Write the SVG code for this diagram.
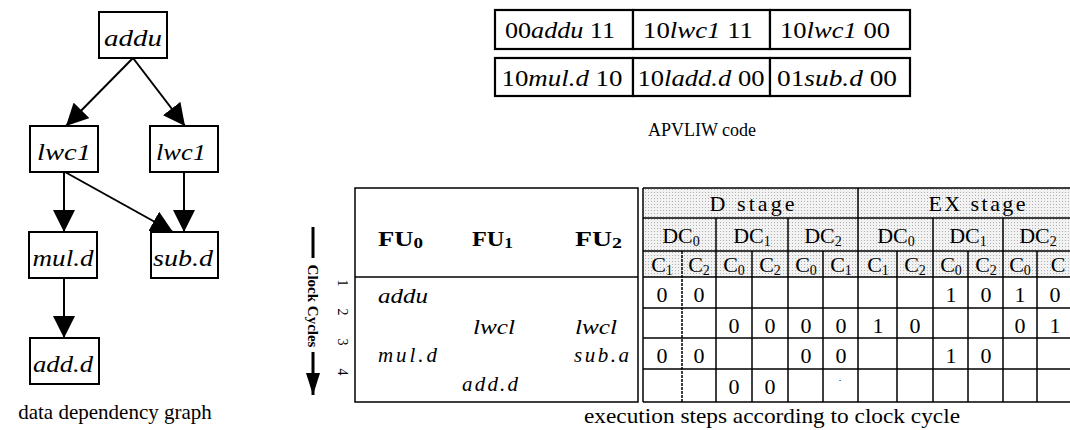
<svg xmlns="http://www.w3.org/2000/svg" width="1070" height="430" viewBox="0 0 1070 430" font-family="'Liberation Serif', 'DejaVu Serif', serif">
<style>
text{font-family:'Liberation Serif','DejaVu Serif',serif;fill:#000}
.nb{fill:#fff;stroke:#000;stroke-width:2}
.nt{font-size:23px;font-style:italic;text-anchor:middle}
.edge{stroke:#000;stroke-width:2;fill:none}
.cap{font-size:21px;text-anchor:middle}
.cb{fill:#fff;stroke:#000;stroke-width:2.2}
.ct{font-size:24px;text-anchor:middle}
.it{font-style:italic}
.tl{stroke:#000;stroke-width:1.5;fill:none}
.hd{font-size:22px;text-anchor:middle}
.fu{font-size:21px;font-weight:bold}
.op{font-size:21px;font-style:italic}
.v{font-size:22px;text-anchor:middle}
.num{font-size:14px}
</style>
<defs>
<marker id="ah" markerWidth="22" markerHeight="22" refX="22" refY="11" orient="auto" markerUnits="userSpaceOnUse">
<path d="M0,0 L22,11 L0,22 Z" fill="#000"/>
</marker>
<marker id="ah2" markerWidth="22" markerHeight="16" refX="22" refY="8" orient="auto" markerUnits="userSpaceOnUse">
<path d="M0,1 L22,8 L0,15 Z" fill="#000"/>
</marker>
<pattern id="dots" width="3" height="3" patternUnits="userSpaceOnUse">
<rect width="3" height="3" fill="#f2f2f2"/>
<rect width="1" height="1" fill="#b0b0b0"/>
</pattern>
</defs>

<!-- data dependency graph -->
<g id="connectors">
<line class="edge" x1="133" y1="58" x2="66" y2="126" marker-end="url(#ah)"/>
<line class="edge" x1="133" y1="58" x2="185" y2="126" marker-end="url(#ah)"/>
<line class="edge" x1="64" y1="172" x2="64" y2="232" marker-end="url(#ah)"/>
<line class="edge" x1="65" y1="172" x2="173" y2="232" marker-end="url(#ah)"/>
<line class="edge" x1="184" y1="172" x2="184" y2="232" marker-end="url(#ah)"/>
<line class="edge" x1="64" y1="278" x2="64" y2="338" marker-end="url(#ah)"/>
</g>
<g id="n-addu"><rect class="nb" x="99" y="12" width="68" height="46"/><text class="nt" x="133" y="46" textLength="58" lengthAdjust="spacingAndGlyphs">addu</text></g>
<g id="n-lwc1a"><rect class="nb" x="30" y="126" width="68" height="46"/><text class="nt" x="64" y="160" textLength="54" lengthAdjust="spacingAndGlyphs">lwc1</text></g>
<g id="n-lwc1b"><rect class="nb" x="150" y="126" width="68" height="46"/><text class="nt" x="181" y="160" textLength="50" lengthAdjust="spacingAndGlyphs">lwc1</text></g>
<g id="n-muld"><rect class="nb" x="29" y="232" width="68" height="46"/><text class="nt" x="63" y="266" textLength="61" lengthAdjust="spacingAndGlyphs">mul.d</text></g>
<g id="n-subd"><rect class="nb" x="151" y="232" width="67" height="46"/><text class="nt" x="183" y="266" textLength="60" lengthAdjust="spacingAndGlyphs">sub.d</text></g>
<g id="n-addd"><rect class="nb" x="30" y="338" width="69" height="46"/><text class="nt" x="63" y="372" textLength="60" lengthAdjust="spacingAndGlyphs">add.d</text></g>
<text class="cap" x="115" y="419">data dependency graph</text>

<!-- APVLIW code -->
<g id="apvliw">
<rect class="cb" x="495" y="10" width="138" height="39"/>
<rect class="cb" x="633" y="10" width="137" height="39"/>
<rect class="cb" x="770" y="10" width="140" height="39"/>
<rect class="cb" x="495" y="58" width="138" height="38"/>
<rect class="cb" x="633" y="58" width="137" height="38"/>
<rect class="cb" x="770" y="58" width="140" height="38"/>
<text class="ct" x="560" y="38" textLength="110" lengthAdjust="spacingAndGlyphs">00<tspan class="it">addu</tspan> 11</text>
<text class="ct" x="698" y="38" textLength="110" lengthAdjust="spacingAndGlyphs">10<tspan class="it">lwc1</tspan> 11</text>
<text class="ct" x="835" y="38" textLength="110" lengthAdjust="spacingAndGlyphs">10<tspan class="it">lwc1</tspan> 00</text>
<text class="ct" x="562" y="86" textLength="121" lengthAdjust="spacingAndGlyphs">10<tspan class="it">mul.d</tspan> 10</text>
<text class="ct" x="701" y="86" textLength="127" lengthAdjust="spacingAndGlyphs">10<tspan class="it">ladd.d</tspan> 00</text>
<text class="ct" x="837" y="86" textLength="120" lengthAdjust="spacingAndGlyphs">01<tspan class="it">sub.d</tspan> 00</text>
<text x="702" y="136" font-size="18" text-anchor="middle">APVLIW code</text>
</g>

<!-- execution table -->
<g id="table">
<rect x="643" y="188" width="430" height="89" fill="url(#dots)"/>
<rect class="tl" x="355" y="188" width="283" height="214"/>
<line class="tl" x1="355" y1="277" x2="638" y2="277"/>
<line class="tl" x1="643" y1="188" x2="643" y2="402"/>
<line class="tl" x1="643" y1="188" x2="1072" y2="188"/>
<line class="tl" x1="643" y1="402" x2="1072" y2="402"/>
<line class="tl" x1="643" y1="218" x2="1072" y2="218"/>
<line class="tl" x1="643" y1="251" x2="1072" y2="251"/>
<line class="tl" x1="643" y1="277" x2="1072" y2="277"/>
<line class="tl" x1="643" y1="308" x2="1072" y2="308"/>
<line class="tl" x1="643" y1="338" x2="1072" y2="338"/>
<line class="tl" x1="643" y1="369" x2="1072" y2="369"/>
<line class="tl" x1="858" y1="188" x2="858" y2="402"/>
<line class="tl" x1="716" y1="218" x2="716" y2="402"/>
<line class="tl" x1="788" y1="218" x2="788" y2="402"/>
<line class="tl" x1="933" y1="218" x2="933" y2="402"/>
<line class="tl" x1="1003" y1="218" x2="1003" y2="402"/>
<line class="tl" x1="682" y1="251" x2="682" y2="402" stroke-dasharray="3,1"/>
<line class="tl" x1="752" y1="251" x2="752" y2="402"/>
<line class="tl" x1="823" y1="251" x2="823" y2="402"/>
<line class="tl" x1="897" y1="251" x2="897" y2="402"/>
<line class="tl" x1="968" y1="251" x2="968" y2="402"/>
<line class="tl" x1="1037" y1="251" x2="1037" y2="402"/>

<text class="hd" x="752" y="211" textLength="85" lengthAdjust="spacing">D stage</text>
<text class="hd" x="977" y="211" textLength="97" lengthAdjust="spacing">EX stage</text>
<text class="hd" x="681" y="243">DC<tspan font-size="14" dy="3">0</tspan></text>
<text class="hd" x="752" y="243">DC<tspan font-size="14" dy="3">1</tspan></text>
<text class="hd" x="823" y="243">DC<tspan font-size="14" dy="3">2</tspan></text>
<text class="hd" x="896" y="243">DC<tspan font-size="14" dy="3">0</tspan></text>
<text class="hd" x="968" y="243">DC<tspan font-size="14" dy="3">1</tspan></text>
<text class="hd" x="1038" y="243">DC<tspan font-size="14" dy="3">2</tspan></text>

<text class="hd" x="662" y="272">C<tspan font-size="14" dy="3">1</tspan></text>
<text class="hd" x="699" y="272">C<tspan font-size="14" dy="3">2</tspan></text>
<text class="hd" x="734" y="272">C<tspan font-size="14" dy="3">0</tspan></text>
<text class="hd" x="770" y="272">C<tspan font-size="14" dy="3">2</tspan></text>
<text class="hd" x="806" y="272">C<tspan font-size="14" dy="3">0</tspan></text>
<text class="hd" x="841" y="272">C<tspan font-size="14" dy="3">1</tspan></text>
<text class="hd" x="878" y="272">C<tspan font-size="14" dy="3">1</tspan></text>
<text class="hd" x="915" y="272">C<tspan font-size="14" dy="3">2</tspan></text>
<text class="hd" x="951" y="272">C<tspan font-size="14" dy="3">0</tspan></text>
<text class="hd" x="986" y="272">C<tspan font-size="14" dy="3">2</tspan></text>
<text class="hd" x="1020" y="272">C<tspan font-size="14" dy="3">0</tspan></text>
<text class="hd" x="1058" y="272">C</text>

<text class="fu" x="378" y="246" textLength="45" lengthAdjust="spacingAndGlyphs">FU<tspan font-size="15" dy="2">0</tspan></text>
<text class="fu" x="472" y="246" textLength="41" lengthAdjust="spacingAndGlyphs">FU<tspan font-size="15" dy="2">1</tspan></text>
<text class="fu" x="575" y="246" textLength="47" lengthAdjust="spacingAndGlyphs">FU<tspan font-size="15" dy="2">2</tspan></text>

<text class="op" x="378" y="303" textLength="50" lengthAdjust="spacingAndGlyphs">addu</text>
<text class="op" x="473" y="334" textLength="42" lengthAdjust="spacingAndGlyphs">lwcl</text>
<text class="op" x="575" y="334" textLength="42" lengthAdjust="spacingAndGlyphs">lwcl</text>
<text class="op" x="378" y="362" textLength="59" lengthAdjust="spacing">mul.d</text>
<text class="op" x="574" y="362" textLength="55" lengthAdjust="spacing">sub.a</text>
<text class="op" x="462" y="391" textLength="56" lengthAdjust="spacing">add.d</text>

<!-- row 1 -->
<text class="v" x="662" y="302">0</text>
<text class="v" x="699" y="302">0</text>
<text class="v" x="951" y="302">1</text>
<text class="v" x="986" y="302">0</text>
<text class="v" x="1020" y="302">1</text>
<text class="v" x="1055" y="302">0</text>
<!-- row 2 -->
<text class="v" x="734" y="333">0</text>
<text class="v" x="770" y="333">0</text>
<text class="v" x="806" y="333">0</text>
<text class="v" x="841" y="333">0</text>
<text class="v" x="878" y="333">1</text>
<text class="v" x="915" y="333">0</text>
<text class="v" x="1020" y="333">0</text>
<text class="v" x="1055" y="333">1</text>
<!-- row 3 -->
<text class="v" x="662" y="363">0</text>
<text class="v" x="699" y="363">0</text>
<text class="v" x="806" y="363">0</text>
<text class="v" x="841" y="363">0</text>
<text class="v" x="951" y="363">1</text>
<text class="v" x="986" y="363">0</text>
<!-- row 4 -->
<text class="v" x="734" y="394">0</text>
<text class="v" x="770" y="394">0</text>
<text x="840" y="381" font-size="10" text-anchor="middle">.</text>
</g>

<!-- clock cycles axis -->
<g id="clock">
<line x1="313" y1="227" x2="313" y2="258" stroke="#000" stroke-width="3"/>
<line x1="313" y1="352" x2="313" y2="395" stroke="#000" stroke-width="3" marker-end="url(#ah2)"/>
<text x="313" y="306" font-size="15" font-weight="bold" text-anchor="middle" dominant-baseline="central" transform="rotate(90 313 306)">Clock Cycles</text>
<text class="num" x="342" y="283" text-anchor="middle" dominant-baseline="central" transform="rotate(90 342 283)">1</text>
<text class="num" x="342" y="312" text-anchor="middle" dominant-baseline="central" transform="rotate(90 342 312)">2</text>
<text class="num" x="342" y="342" text-anchor="middle" dominant-baseline="central" transform="rotate(90 342 342)">3</text>
<text class="num" x="342" y="372" text-anchor="middle" dominant-baseline="central" transform="rotate(90 342 372)">4</text>
</g>
<text class="cap" x="772" y="423" font-size="22" textLength="376" lengthAdjust="spacingAndGlyphs">execution steps according to clock cycle</text>
</svg>
